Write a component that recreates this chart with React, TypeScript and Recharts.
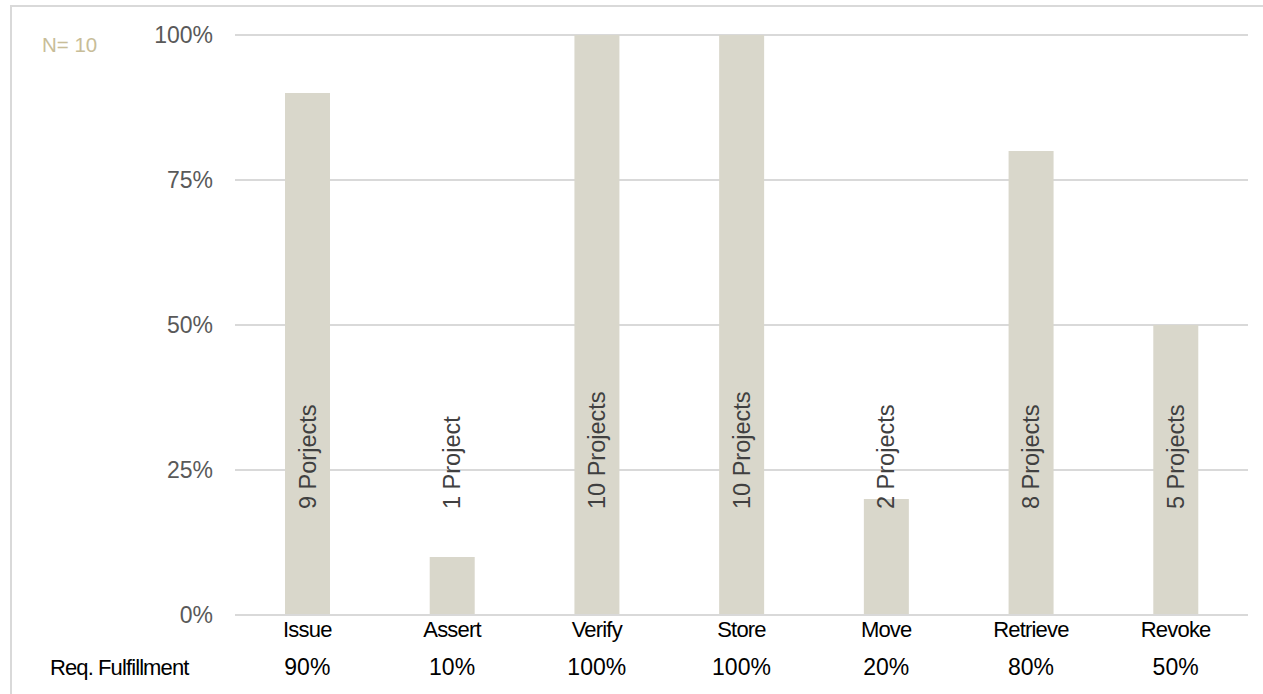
import { BarChart, Bar, XAxis, YAxis, CartesianGrid, LabelList } from 'recharts';

const categories = ['Issue', 'Assert', 'Verify', 'Store', 'Move', 'Retrieve', 'Revoke'];
const fulfillment = [90, 10, 100, 100, 20, 80, 50];
const projectLabels = [
    '9 Porjects',
    '1 Project',
    '10 Projects',
    '10 Projects',
    '2 Projects',
    '8 Projects',
    '5 Projects',
];
const yTicks = [0, 25, 50, 75, 100];
const sampleSize = 10;

const data = categories.map((name, i) => ({
    name,
    value: fulfillment[i],
    label: projectLabels[i],
}));

const FONT = "'Liberation Sans', Arial, sans-serif";
const BAR_COLOR = '#d9d7cb';
const GRID_COLOR = '#d9d9d9';

const CategoryTick = (props: any) => {
    const { x, y, payload } = props;
    const idx = categories.indexOf(payload.value);
    return (
        <g>
            <text
                x={x}
                y={y + 22}
                textAnchor="middle"
                fill="#000"
                fontSize={22}
                letterSpacing={-0.8}
                fontFamily={FONT}
            >
                {payload.value}
            </text>
            <text x={x} y={y + 60} textAnchor="middle" fill="#000" fontSize={23} fontFamily={FONT}>
                {`${fulfillment[idx]}%`}
            </text>
        </g>
    );
};

const ProjectLabel = (props: any) => {
    const vb = props.viewBox ?? props;
    const { x, y, width, height } = vb;
    const tx = x + width / 2 + 8;
    const ty = y + height - 106;
    return (
        <text
            x={tx}
            y={ty}
            transform={`rotate(-90 ${tx} ${ty})`}
            textAnchor="start"
            fill="#404040"
            fontSize={23.5}
            fontFamily={FONT}
        >
            {props.value}
        </text>
    );
};

export default function App() {
    return (
        <div
            style={{
                position: 'absolute',
                left: 0,
                top: 0,
                width: 1263,
                height: 694,
                overflow: 'hidden',
                background: '#fff',
            }}
        >
            <div
                style={{
                    position: 'absolute',
                    left: 10,
                    top: 5,
                    width: 1300,
                    height: 760,
                    border: `2px solid ${GRID_COLOR}`,
                }}
            />
            <div style={{ position: 'absolute', left: 0, top: 0 }}>
                <BarChart
                    width={1263}
                    height={694}
                    data={data}
                    margin={{ top: 35, right: 15, bottom: 0, left: 0 }}
                    barCategoryGap={0}
                >
                    <CartesianGrid vertical={false} stroke={GRID_COLOR} strokeWidth={2} />
                    <YAxis
                        width={235}
                        domain={[0, 100]}
                        ticks={yTicks}
                        tickFormatter={(v) => `${v}%`}
                        axisLine={false}
                        tickLine={false}
                        tickSize={0}
                        tickMargin={22}
                        tick={{ fill: '#595959', fontSize: 23, fontFamily: FONT }}
                    />
                    <XAxis
                        dataKey="name"
                        height={79}
                        axisLine={{ stroke: GRID_COLOR, strokeWidth: 2 }}
                        tickLine={false}
                        tickSize={0}
                        tickMargin={0}
                        interval={0}
                        tick={<CategoryTick />}
                    />
                    <Bar dataKey="value" fill={BAR_COLOR} barSize={45} isAnimationActive={false}>
                        <LabelList dataKey="label" content={<ProjectLabel />} />
                    </Bar>
                </BarChart>
            </div>
            <svg
                width={1263}
                height={694}
                style={{ position: 'absolute', left: 0, top: 0, pointerEvents: 'none' }}
            >
                <text x={42} y={52} fill="#c8bd98" fontSize={20.5} fontFamily={FONT}>
                    {`N= ${sampleSize}`}
                </text>
                <text
                    x={50}
                    y={675}
                    fill="#000"
                    fontSize={22}
                    letterSpacing={-0.9}
                    fontFamily={FONT}
                >
                    Req. Fulfillment
                </text>
            </svg>
        </div>
    );
}
